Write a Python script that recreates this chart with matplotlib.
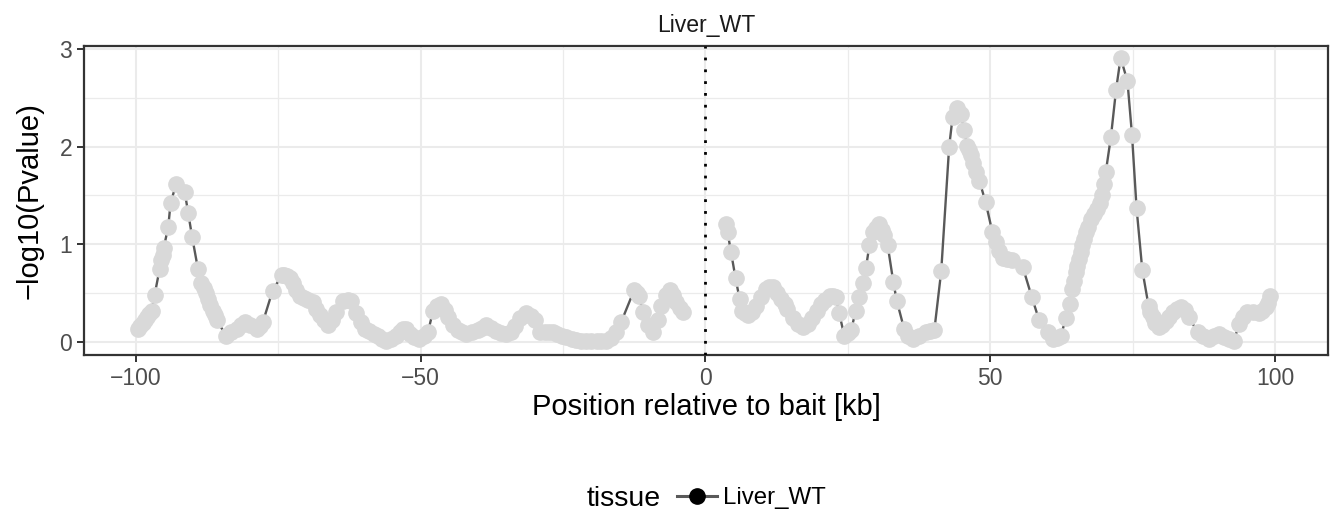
import matplotlib
matplotlib.use("Agg")
import matplotlib.pyplot as plt
from matplotlib.lines import Line2D
from matplotlib.ticker import MultipleLocator

plt.rcParams['font.family'] = ['Liberation Sans', 'DejaVu Sans']

# position relative to bait (kb) and -log10(p)
pos_kb = [
    -99.6, -99.2, -98.8, -98.4, -98.0, -97.6, -97.2, -96.7, -95.8, -95.5, -95.3, -95.1,
    -94.3, -93.9, -92.9, -91.4, -90.8, -90.1, -89.1, -88.5, -88.1, -87.7, -87.3, -86.9,
    -86.5, -86.1, -85.8, -84.1, -83.2, -82.3, -81.6, -80.9, -80.0, -78.8, -78.2, -77.7,
    -76.0, -74.4, -74.0, -73.5, -73.0, -72.4, -71.8, -71.2, -70.5, -69.7, -68.9, -68.3,
    -67.7, -67.0, -66.3, -65.6, -64.8, -63.6, -62.8, -62.2, -61.3, -60.5, -59.8, -59.0,
    -58.2, -57.4, -56.7, -56.0, -55.2, -54.4, -53.7, -53.1, -52.5, -51.9, -51.2, -50.2,
    -49.4, -48.7, -47.8, -47.1, -46.4, -45.8, -45.2, -44.3, -43.4, -42.7, -42.0, -41.0,
    -40.0, -39.2, -38.5, -37.7, -36.8, -35.9, -35.0, -34.2, -33.4, -32.6, -31.5, -30.6,
    -30.0, -29.1, -28.2, -27.5, -26.8, -26.0, -25.2, -24.4, -23.5, -22.7, -21.8, -20.9,
    -20.0, -19.1, -18.3, -17.4, -16.6, -15.7, -14.8, -12.5, -12.0, -11.6, -11.0, -10.1,
    -9.2, -8.4, -7.8, -7.0, -6.3, -5.7, -5.1, -4.5, -4.0,
    3.6, 3.9, 4.5, 5.3, 6.0, 6.5, 7.0, 7.4, 8.1, 8.9, 9.8, 10.6, 11.2, 11.8, 12.6, 13.3,
    13.9, 14.4, 15.3, 16.2, 17.1, 18.0, 18.8, 19.6, 20.3, 21.0, 21.8, 22.4, 22.9, 23.5,
    24.4, 25.0, 25.6, 26.4, 27.0, 27.6, 28.2, 28.8, 29.4, 29.9, 30.5, 31.0, 31.4, 32.0,
    33.0, 33.6, 34.9, 35.6, 36.4, 37.5, 38.7, 39.5, 40.2, 41.4, 42.8, 43.4, 44.2, 44.9,
    45.4, 46.0, 46.3, 46.6, 47.0, 47.5, 48.1, 49.2, 50.4, 51.0, 51.6, 52.2, 53.0, 53.9,
    55.7, 57.3, 58.6, 60.1, 61.0, 61.7, 62.4, 63.3, 64.0, 64.4, 64.7, 65.0, 65.3, 65.6,
    65.9, 66.2, 66.5, 66.8, 67.2, 67.7, 68.2, 68.8, 69.2, 69.7, 70.0, 70.3, 71.2, 72.1,
    72.9, 74.1, 74.9, 75.7, 76.7, 77.8, 78.1, 78.5, 79.0, 79.6, 80.2, 80.8, 81.4, 82.1,
    82.8, 83.5, 84.2, 84.9, 86.4, 87.4, 88.4, 89.3, 90.2, 91.1, 91.9, 92.8, 93.7, 94.4,
    95.1, 96.1, 97.2, 97.8, 98.4, 98.8, 99.2,
]
neglog_p = [
    0.13, 0.16, 0.19, 0.22, 0.25, 0.28, 0.32, 0.48, 0.75, 0.84, 0.89, 0.96,
    1.18, 1.42, 1.62, 1.53, 1.32, 1.07, 0.75, 0.60, 0.55, 0.50, 0.44, 0.38,
    0.32, 0.27, 0.22, 0.06, 0.10, 0.13, 0.17, 0.20, 0.17, 0.13, 0.16, 0.20,
    0.52, 0.68, 0.68, 0.67, 0.65, 0.60, 0.53, 0.47, 0.45, 0.43, 0.41, 0.34,
    0.27, 0.22, 0.17, 0.22, 0.30, 0.42, 0.43, 0.42, 0.29, 0.20, 0.13, 0.11,
    0.08, 0.06, 0.03, 0.01, 0.03, 0.06, 0.10, 0.13, 0.13, 0.08, 0.05, 0.03,
    0.06, 0.10, 0.32, 0.37, 0.39, 0.33, 0.25, 0.17, 0.12, 0.10, 0.08, 0.10,
    0.12, 0.14, 0.17, 0.14, 0.11, 0.09, 0.08, 0.10, 0.16, 0.24, 0.29, 0.26,
    0.22, 0.10, 0.10, 0.10, 0.10, 0.08, 0.06, 0.05, 0.03, 0.02, 0.01, 0.01,
    0.01, 0.01, 0.01, 0.01, 0.04, 0.10, 0.20, 0.53, 0.50, 0.47, 0.30, 0.17,
    0.10, 0.22, 0.37, 0.48, 0.53, 0.48, 0.41, 0.35, 0.30,
    1.21, 1.12, 0.92, 0.65, 0.44, 0.32, 0.29, 0.27, 0.30, 0.37, 0.46, 0.54, 0.56, 0.56, 0.50, 0.44,
    0.39, 0.34, 0.24, 0.18, 0.15, 0.18, 0.24, 0.31, 0.39, 0.43, 0.47, 0.47, 0.46, 0.29,
    0.06, 0.09, 0.12, 0.32, 0.46, 0.60, 0.76, 0.99, 1.12, 1.17, 1.21, 1.15, 1.09, 0.99,
    0.61, 0.42, 0.13, 0.06, 0.03, 0.06, 0.10, 0.11, 0.12, 0.72, 2.00, 2.30, 2.40, 2.33,
    2.17, 2.01, 1.96, 1.91, 1.83, 1.74, 1.65, 1.43, 1.12, 1.02, 0.93, 0.86, 0.85, 0.84,
    0.77, 0.46, 0.22, 0.10, 0.03, 0.04, 0.06, 0.24, 0.39, 0.54, 0.62, 0.71, 0.78, 0.85,
    0.92, 0.99, 1.05, 1.12, 1.18, 1.26, 1.31, 1.36, 1.42, 1.50, 1.62, 1.74, 2.10, 2.58,
    2.91, 2.67, 2.12, 1.37, 0.74, 0.37, 0.30, 0.25, 0.19, 0.15, 0.17, 0.21, 0.25, 0.30,
    0.34, 0.36, 0.33, 0.25, 0.10, 0.06, 0.03, 0.06, 0.08, 0.05, 0.03, 0.01, 0.18, 0.25,
    0.30, 0.30, 0.29, 0.32, 0.36, 0.40, 0.47,
]
tissue = "Liver_WT"
xticks = [-100, -50, 0, 50, 100]
yticks = [0, 1, 2, 3]

fig = plt.figure(figsize=(13.33, 5.12), dpi=100)
ax = fig.add_axes([0.0630, 0.3066, 0.9332, 0.6035])

# upstream and downstream of the bait are drawn as separate lines
for side in (-1, 1):
    xs = [x for x in pos_kb if x * side > 0]
    ys = [y for x, y in zip(pos_kb, neglog_p) if x * side > 0]
    ax.plot(xs, ys, color='#595959', lw=1.7, zorder=3)
ax.plot(pos_kb, neglog_p, ls='none', marker='o', ms=11, mfc='#D9D9D9', mec='#D9D9D9', zorder=4)
ax.axvline(0, color='black', ls=(0, (1, 3.25)), lw=2.0, dash_capstyle='butt', zorder=5)

ax.set_xlim(-109.1, 109.3)
ax.set_ylim(-0.136, 3.03)
ax.xaxis.set_minor_locator(MultipleLocator(25))
ax.yaxis.set_minor_locator(MultipleLocator(0.5))
ax.set_xticks(xticks)
ax.set_xticklabels([str(t).replace('-', '\u2212') for t in xticks])
ax.set_yticks(yticks)
ax.set_yticklabels([str(t) for t in yticks])

ax.grid(which='major', color='#EBEBEB', lw=1.5, zorder=0)
ax.grid(which='minor', color='#EBEBEB', lw=0.9, zorder=0)
ax.set_axisbelow(True)
ax.tick_params(which='major', length=5.3, width=1.4, color='#333333', labelsize=16.5,
               labelcolor='#4D4D4D', pad=3.3)
ax.tick_params(which='minor', length=0)
for s in ax.spines.values():
    s.set_color('#333333')
    s.set_linewidth(1.6)

ax.set_xlabel('Position relative to bait [kb]', fontsize=21)
ax.xaxis.label.set_va('baseline')
ax.xaxis.set_label_coords(0.5, -0.1935)
ax.set_ylabel('\u2212log10(Pvalue)', fontsize=21)
ax.yaxis.label.set_va('center')
ax.yaxis.set_label_coords(-0.0438, 0.5)
ax.set_title(tissue, fontsize=16.6, color='#1A1A1A', pad=10)

# legend at the bottom
fig.text(586.7 / 1333, 5.5 / 512, 'tissue', fontsize=20.5, ha='left', va='baseline')
key = Line2D([], [], color='#595959', lw=2.2, marker='o', ms=11, mfc='black', mec='black')
fig.legend(handles=[key], labels=[tissue], loc='center left', bbox_to_anchor=(677 / 1333, 14 / 512),
           frameon=False, fontsize=17.3, handlelength=1.65, handletextpad=0.27,
           borderpad=0, borderaxespad=0)

fig.savefig('out.png', dpi=100)
